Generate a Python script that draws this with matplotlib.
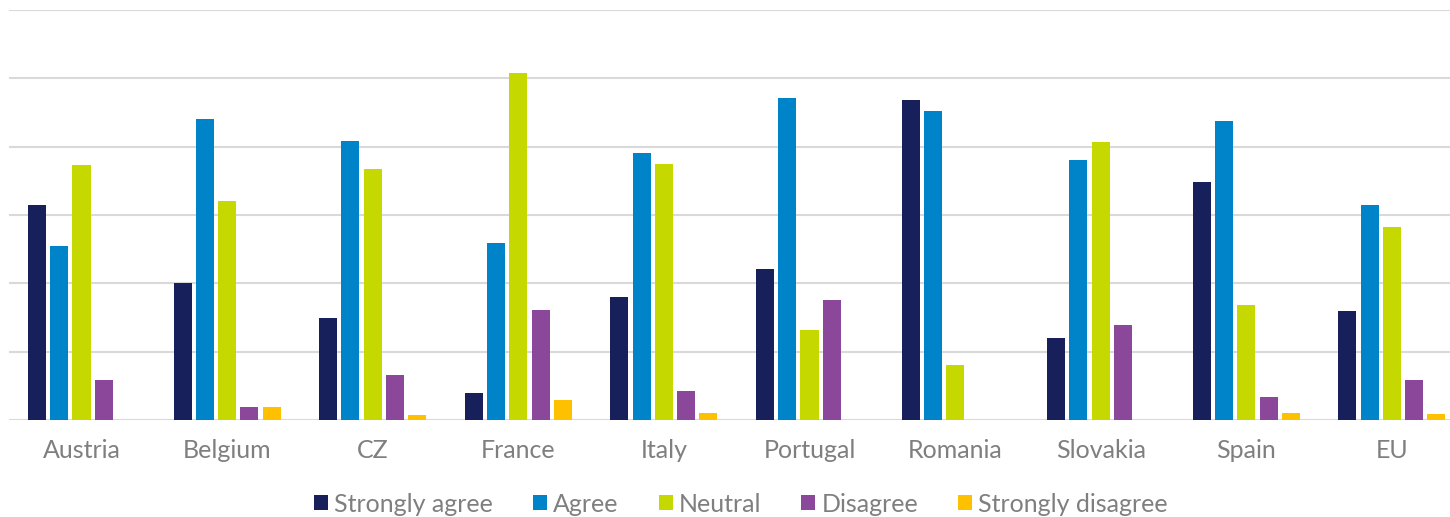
import matplotlib
matplotlib.use("Agg")
import matplotlib.pyplot as plt
import numpy as np

countries = ["Austria", "Belgium", "CZ", "France", "Italy",
             "Portugal", "Romania", "Slovakia", "Spain", "EU"]
series_names = ["Strongly agree", "Agree", "Neutral", "Disagree", "Strongly disagree"]

strongly_agree = [31.4, 20.0, 14.9, 4.0, 18.0, 22.1, 46.9, 12.0, 34.8, 16.0]
agree = [25.5, 44.1, 40.8, 25.9, 39.1, 47.1, 45.2, 38.0, 43.8, 31.4]
neutral = [37.3, 32.0, 36.7, 50.8, 37.4, 13.2, 8.0, 40.7, 16.8, 28.2]
disagree = [5.9, 1.9, 6.6, 16.1, 4.2, 17.6, 0.0, 13.9, 3.3, 5.9]
strongly_disagree = [0.0, 1.9, 0.7, 2.9, 1.0, 0.0, 0.0, 0.0, 1.0, 0.9]

colors = ["#17205A", "#0084C9", "#C5D800", "#8B4799", "#FFC000"]
series = [strongly_agree, agree, neutral, disagree, strongly_disagree]

plt.rcParams["font.family"] = ["Lato", "DejaVu Sans"]

fig = plt.figure(figsize=(14.5, 5.17), dpi=100)
ax = fig.add_axes([8.7 / 1450, 97 / 517, 1456 / 1450, 410 / 517])

x = np.arange(len(countries))
pitch = 0.153
width = 0.124
for i, (vals, col, name) in enumerate(zip(series, colors, series_names)):
    ax.bar(x + (i - 2) * pitch, vals, width=width, color=col, label=name,
           zorder=3)

ax.set_xlim(-0.5, len(countries) - 0.5)
ax.set_ylim(0, 60)
ax.set_yticks(np.arange(0, 61, 10))
ax.set_yticklabels([])
ax.tick_params(axis="y", length=0)
ax.grid(axis="y", color="#D9D9D9", linewidth=1.5, zorder=0)
ax.set_axisbelow(True)
for s in ax.spines.values():
    s.set_visible(False)

ax.set_xticks(x)
ax.set_xticklabels(countries, fontsize=18, color="#7F7F7F")
ax.tick_params(axis="x", length=0, pad=14)

handles, labels = ax.get_legend_handles_labels()
fig.legend(handles, labels, loc="center", bbox_to_anchor=(741 / 1450, 1 - 504 / 517),
           ncol=5, frameon=False, fontsize=18, labelcolor="#7F7F7F",
           handlelength=0.55, handleheight=0.55, handletextpad=0.25,
           columnspacing=1.6)

fig.savefig("out.png", dpi=100, facecolor="white")
